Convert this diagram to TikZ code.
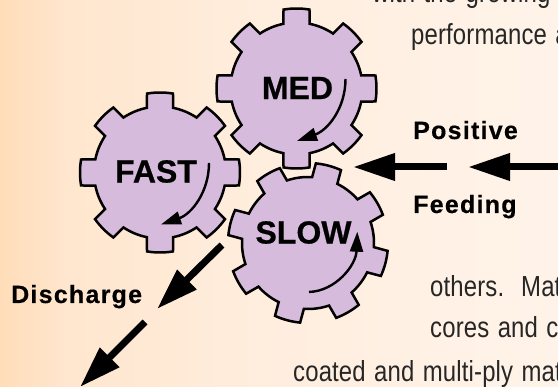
\documentclass[tikz,border=0pt]{standalone}
\usepackage{fontspec}
\setmainfont{Liberation Sans}
\newfontfamily\bodyfont[FakeStretch=0.825,LetterSpace=0.5,WordSpace=1.25]{Liberation Sans}
\newfontfamily\labelfont[LetterSpace=5,FakeBold=0.4]{Liberation Sans Bold}
\newfontfamily\gearfont[FakeBold=0.6]{Liberation Sans Bold}
\usetikzlibrary{arrows.meta}
\definecolor{gearfill}{HTML}{D7BBDD}
\definecolor{txt}{HTML}{262626}
\definecolor{bgA}{HTML}{FFDDB9}
\definecolor{bgB}{HTML}{FFE6CE}
\definecolor{bgC}{HTML}{FFEEDF}
\definecolor{bgD}{HTML}{FFF3E9}
\pgfdeclarehorizontalshading{bgshade}{100bp}{
  color(0bp)=(bgA); color(25bp)=(bgA); color(31bp)=(bgB); color(50bp)=(bgC); color(75bp)=(bgD); color(100bp)=(bgD)}
\newcommand{\gearshape}[3]{% cx, cy, rotation
  \draw[gearline] ({#1+66*cos(#3-11.4)},{#2+66*sin(#3-11.4)})
  \foreach \k in {0,45,...,315}{
    -- ({#1+80*cos(#3+\k-9.35)},{#2+80*sin(#3+\k-9.35)})
    arc[start angle=#3+\k-9.35,end angle=#3+\k+9.35,radius=80]
    -- ({#1+66*cos(#3+\k+11.4)},{#2+66*sin(#3+\k+11.4)})
    arc[start angle=#3+\k+11.4,end angle=#3+\k+33.6,radius=66]
  } -- cycle;}
\tikzset{
  x=1pt,y=-1pt,
  gearline/.style={draw=black,fill=gearfill,line width=2.5pt,line join=miter},
  gearlabel/.style={font=\gearfont\fontsize{32}{32}\selectfont,inner sep=0pt,text=black},
  flowlabel/.style={font=\labelfont\fontsize{25}{25}\selectfont,inner sep=0pt,anchor=base west,text=black},
  bodytext/.style={font=\bodyfont\fontsize{29}{29}\selectfont,inner sep=0pt,anchor=base west,text=txt},
  bigarrow/.style={line width=7pt,-{Triangle[length=42pt,width=26pt]},draw=black},
  turnarrow/.style={line width=2.4pt,-{Triangle[length=20pt,width=13pt]},draw=black},
}
\begin{document}
\begin{tikzpicture}
\useasboundingbox (0,0) rectangle (558,387);
\begin{scope}
\clip (0,0) rectangle (558,387);
\shade[shading=bgshade] (0,0) rectangle (558,387);
\node[bodytext] (t1) at (372,3) {with the growing t};
\node[bodytext] (t2) at (411,44.5) {performance a};
\node[bodytext] (t3) at (430,297) {others.\ \ Mat};
\node[bodytext] (t4) at (430,338) {cores and ca};
\node[bodytext] (t5) at (293,381.5) {coated and multi-ply mat};
\gearshape{160}{172.5}{0}
\gearshape{296.5}{88.5}{0}
\gearshape{308}{243}{15}
\node[gearlabel] (med) at (297.5,88) {MED};
\node[gearlabel] (fast) at (156,171.5) {FAST};
\node[gearlabel] (slow) at (303.5,232.5) {SLOW};
\coordinate (m1) at (345.5,79); \coordinate (m2) at (297,141);
\coordinate (f1) at (209,163); \coordinate (f2) at (161,224.5);
\coordinate (s1) at (309,292); \coordinate (s2) at (357.3,231.7);
\draw[turnarrow] (m1) .. controls (345.5,108) and (328,130) .. (m2);
\draw[turnarrow] (f1) .. controls (209,192) and (191.5,214) .. (f2);
\draw[turnarrow] (s1) .. controls (336,291) and (356,265) .. (s2);
\node[flowlabel] (pos) at (413,139) {Positive};
\node[flowlabel] (feed) at (413,213) {Feeding};
\node[flowlabel] (dis) at (11,303) {Discharge};
\coordinate (p1s) at (447,167); \coordinate (p1e) at (353,167);
\coordinate (p2s) at (560,167); \coordinate (p2e) at (468,167);
\coordinate (d1s) at (222,245); \coordinate (d1e) at (157,309);
\coordinate (d2s) at (145,322); \coordinate (d2e) at (80,387);
\draw[bigarrow] (p1s) -- (p1e);
\draw[bigarrow] (p2s) -- (p2e);
\draw[bigarrow] (d1s) -- (d1e);
\draw[bigarrow] (d2s) -- (d2e);
\end{scope}
\end{tikzpicture}
\end{document}
